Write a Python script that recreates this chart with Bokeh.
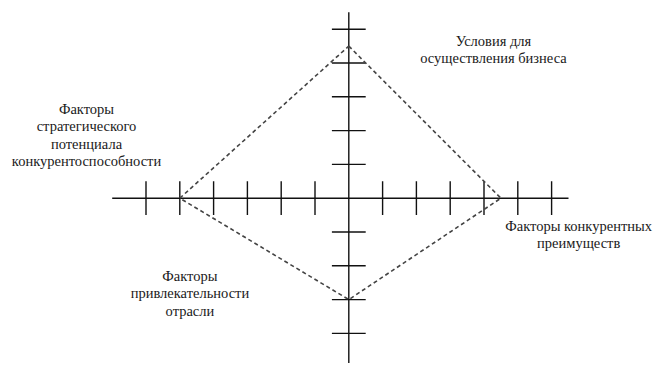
from bokeh.plotting import figure
from bokeh.models import ColumnDataSource, Range1d
from bokeh.core.properties import value
from bokeh.embed import file_html
from bokeh.resources import INLINE

# --- data ---
x_ticks = [-6, -5, -4, -3, -2, -1, 1, 2, 3, 4, 5, 6]
y_ticks = [-5, -4, -3, -2, -1, 1, 2, 3, 4, 5]
x_axis_extent = [-7, 6.5]
y_axis_extent = [-5.6, 5.5]

# diamond vertices: top, right, bottom, left
diamond_x = [0, 4.5, 0, -5, 0]
diamond_y = [4.5, 0, -3, 0, 4.5]

label_lines = [
    ["Условия для", "осуществления бизнеса"],
    ["Факторы", "стратегического", "потенциала", "конкурентоспособности"],
    ["Факторы конкурентных", "преимуществ"],
    ["Факторы", "привлекательности", "отрасли"],
]
label_x = [4.28, -7.76, 6.80, -4.70]
label_y = [4.66, 2.64, -0.81, -2.30]

# --- figure ---
unit = 33.8
cx, cy = 348.3, 197.7
W, H = 655, 363
p = figure(width=W, height=H, output_backend="svg", toolbar_location=None,
           min_border=0, outline_line_color=None,
           x_range=Range1d(-cx / unit, (W - cx) / unit),
           y_range=Range1d(-(H - cy) / unit, cy / unit))
p.axis.visible = False
p.grid.visible = False
p.background_fill_color = "white"

axis_color = "#111111"
# main axes
p.segment(x0=[x_axis_extent[0]], y0=[0], x1=[x_axis_extent[1]], y1=[0],
          line_color=axis_color, line_width=1.4)
p.segment(x0=[0], y0=[y_axis_extent[0]], x1=[0], y1=[y_axis_extent[1]],
          line_color=axis_color, line_width=1.4)
# ticks
half = 0.5
p.segment(x0=x_ticks, y0=[-half] * len(x_ticks), x1=x_ticks, y1=[half] * len(x_ticks),
          line_color=axis_color, line_width=1.4)
p.segment(x0=[-half] * len(y_ticks), y0=y_ticks, x1=[half] * len(y_ticks), y1=y_ticks,
          line_color=axis_color, line_width=1.4)

# diamond
p.line(diamond_x, diamond_y, line_color="#444444", line_width=1.6, line_dash="4 3")

# labels
tx, ty, tt, toff = [], [], [], []
for lines, lx, ly in zip(label_lines, label_x, label_y):
    for i, s in enumerate(lines):
        tx.append(lx)
        ty.append(ly)
        tt.append(s)
        toff.append(i * 17.5)
src = ColumnDataSource(dict(x=tx, y=ty, text=tt, yo=toff))
p.text(x="x", y="y", text="text", y_offset="yo", source=src,
       text_font=value("Liberation Serif"), text_font_size="14.5px",
       text_color="#1a1a1a", text_align="center", text_baseline="middle")

open("out.html", "w").write(file_html(p, INLINE))
